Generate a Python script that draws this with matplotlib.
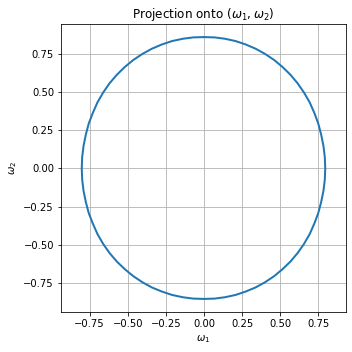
import matplotlib
matplotlib.use("Agg")
import matplotlib.pyplot as plt

# angular velocity components, one loop clockwise from the top,
# split by quadrant
w1_upper_right = [0.000, 0.069, 0.138, 0.207, 0.273, 0.338, 0.400, 0.460, 0.515, 0.567,
                  0.614, 0.656, 0.693, 0.723, 0.749, 0.768, 0.783, 0.792, 0.795]
w2_upper_right = [0.861, 0.859, 0.850, 0.835, 0.813, 0.785, 0.751, 0.711, 0.665, 0.614,
                  0.558, 0.497, 0.433, 0.365, 0.295, 0.223, 0.149, 0.075, 0.000]

w1_lower_right = [0.792, 0.783, 0.768, 0.749, 0.723, 0.693, 0.656, 0.614, 0.567,
                  0.515, 0.460, 0.400, 0.338, 0.273, 0.207, 0.138, 0.069, 0.000]
w2_lower_right = [-0.074, -0.148, -0.221, -0.293, -0.362, -0.430, -0.494, -0.554, -0.610,
                  -0.660, -0.706, -0.746, -0.780, -0.807, -0.829, -0.844, -0.853, -0.855]

w1_lower_left = [-0.070, -0.139, -0.209, -0.275, -0.341, -0.403, -0.463, -0.519, -0.571,
                 -0.619, -0.661, -0.698, -0.728, -0.755, -0.774, -0.789, -0.798, -0.801]
w2_lower_left = [-0.853, -0.844, -0.829, -0.807, -0.780, -0.746, -0.706, -0.660, -0.610,
                 -0.554, -0.494, -0.430, -0.362, -0.293, -0.221, -0.148, -0.074, 0.000]

w1_upper_left = [-0.798, -0.789, -0.774, -0.755, -0.728, -0.698, -0.661, -0.619, -0.571,
                 -0.519, -0.463, -0.403, -0.341, -0.275, -0.209, -0.139, -0.070, 0.000]
w2_upper_left = [0.075, 0.149, 0.223, 0.295, 0.365, 0.433, 0.497, 0.558, 0.614,
                 0.665, 0.711, 0.751, 0.785, 0.813, 0.835, 0.850, 0.859, 0.861]

omega1 = w1_upper_right + w1_lower_right + w1_lower_left + w1_upper_left
omega2 = w2_upper_right + w2_lower_right + w2_lower_left + w2_upper_left

W = H = 352
fig = plt.figure(figsize=(W / 72, H / 72), dpi=72)
ax = fig.add_axes([61 / W, 40 / H, 285 / W, 288 / H])
ax.plot(omega1, omega2, color="#1f77b4", lw=2.0)
ax.set_aspect("equal", adjustable="datalim")
ax.grid(True)
ax.set_title(r"Projection onto ($\omega_1, \omega_2$)")
ax.set_xlabel(r"$\omega_1$")
ax.set_ylabel(r"$\omega_2$")

fig.savefig("out.png", dpi=72)
